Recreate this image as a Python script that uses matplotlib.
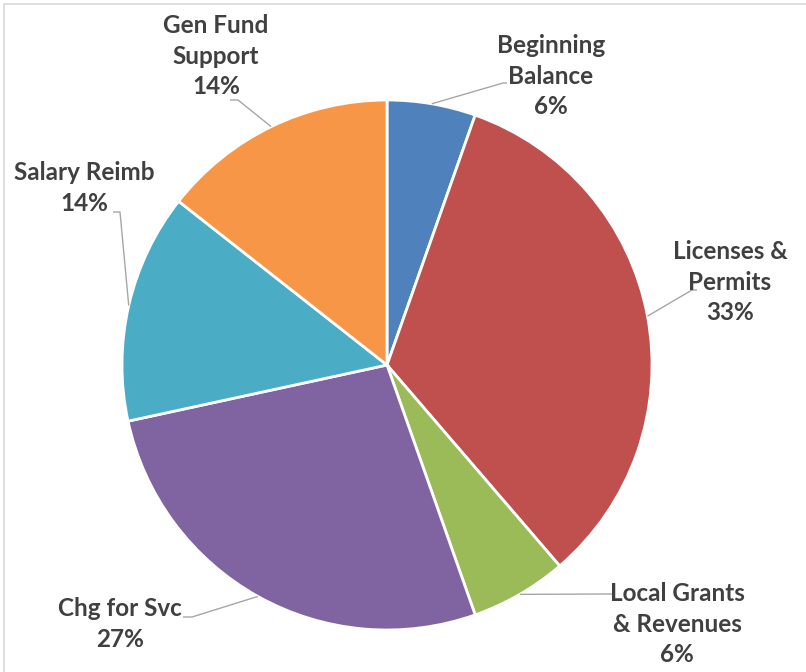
import numpy as np
import matplotlib
matplotlib.use("Agg")
import matplotlib.pyplot as plt
from matplotlib.patches import Rectangle

categories = ["Beginning\nBalance", "Licenses &\nPermits", "Local Grants\n& Revenues",
              "Chg for Svc", "Salary Reimb", "Gen Fund\nSupport"]
values = [5.4, 33.3, 5.9, 27.0, 14.0, 14.4]
pct_labels = ["6%", "33%", "6%", "27%", "14%", "14%"]
colors = ["#4F81BD", "#C0504D", "#9BBB59", "#8064A2", "#4BACC6", "#F79646"]

W, H = 806, 672
fig = plt.figure(figsize=(W / 100, H / 100), dpi=100)
ax = fig.add_axes([0, 0, 1, 1])

cx, cy, R = 387, H - 365, 265
wedges, _ = ax.pie(values, colors=colors, startangle=90, counterclock=False,
                   center=(cx, cy), radius=R, frame=True,
                   wedgeprops=dict(edgecolor="white", linewidth=2))
ax.set_xlim(0, W)
ax.set_ylim(0, H)
ax.set_aspect("equal")
ax.axis("off")

# label layout: text center (px), elbow point (px), end of horizontal (px)
text_pos = [(551, 76), (730, 282), (677, 624), (120, 624), (84, 188), (216, 56)]
elbow = [(503, 83), (692, 290), (607, 594), (192, 617), (120, 212), (238, 100)]
hend = [(507, 83), (697, 290), (612, 594), (183, 617), (113, 212), (230, 100)]

txt_color = "#404040"
line_color = "#A6A6A6"
for w, cat, p, tp, el, he in zip(wedges, categories, pct_labels, text_pos, elbow, hend):
    mid = np.deg2rad((w.theta1 + w.theta2) / 2)
    ex, ey = cx + R * np.cos(mid), cy + R * np.sin(mid)
    ax.plot([ex, el[0], he[0]], [ey, H - el[1], H - he[1]], color=line_color, lw=1.0,
            solid_capstyle="butt", zorder=3)
    ax.text(tp[0], H - tp[1], cat + "\n" + p, ha="center", va="center",
            fontsize=17.5, fontweight="bold", family=["Lato", "DejaVu Sans"],
            color=txt_color, linespacing=1.42, zorder=4)

ax.add_patch(Rectangle((4, -10), W + 10, H - 4 + 10, fill=False,
                       edgecolor="#D9D9D9", lw=1.2, zorder=0))

fig.savefig("out.png", dpi=100)
